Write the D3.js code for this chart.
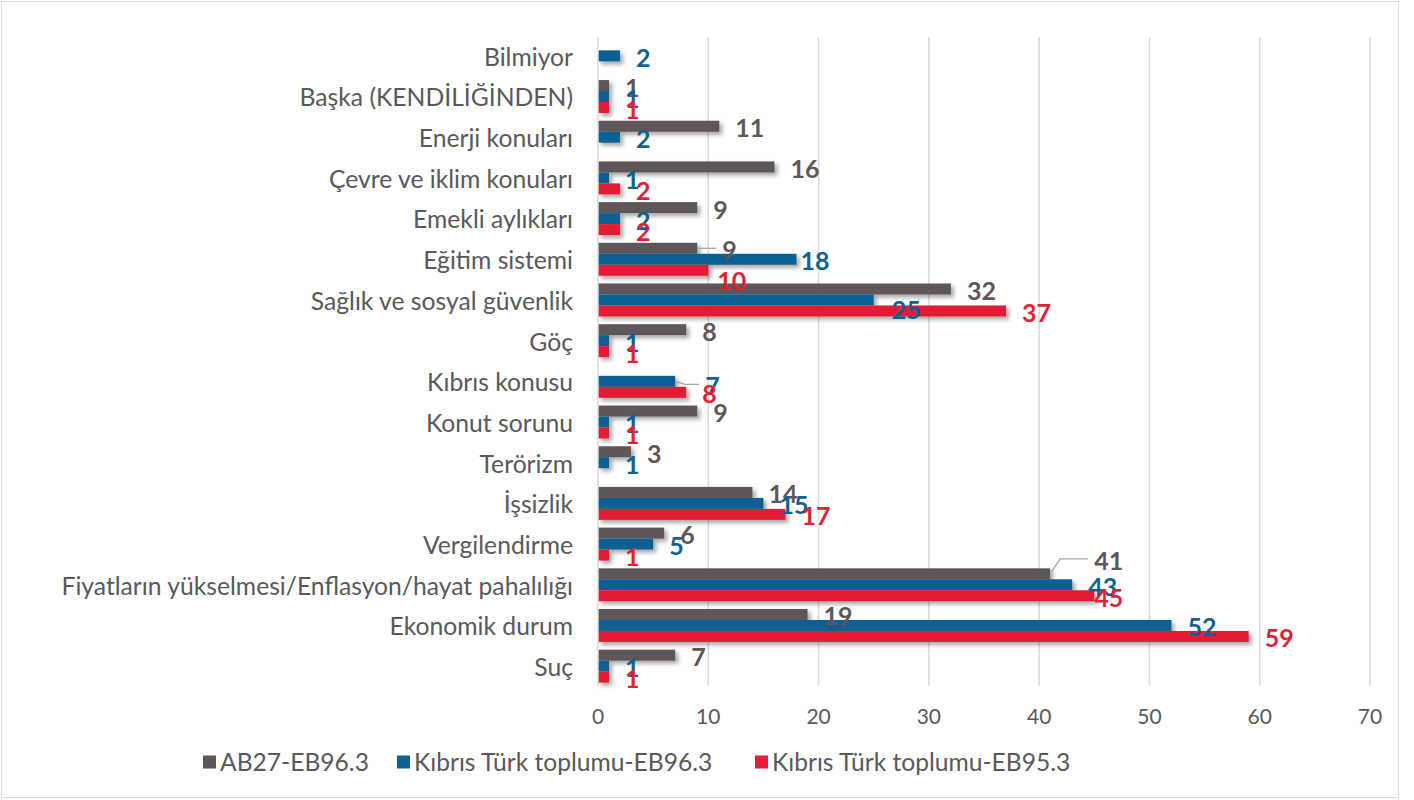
<!DOCTYPE html>
<meta charset="utf-8">
<script src="https://d3js.org/d3.v7.min.js"></script>
<style>
  body { margin: 0; background: #fff; }
  text { font-family: Lato, "Open Sans", sans-serif; }
</style>
<body>
<svg id="chart" width="1414" height="800"></svg>
<script>
// categories, top to bottom
var categories = ["Bilmiyor", "Başka (KENDİLİĞİNDEN)", "Enerji konuları", "Çevre ve iklim konuları",
  "Emekli aylıkları", "Eğitim sistemi ", "Sağlık ve sosyal güvenlik", "Göç", "Kıbrıs konusu",
  "Konut sorunu", "Terörizm", "İşsizlik", "Vergilendirme",
  "Fiyatların yükselmesi/Enflasyon/hayat pahalılığı", "Ekonomik durum", "Suç"];

var seriesNames = ["AB27-EB96.3", "Kıbrıs Türk toplumu-EB96.3", "Kıbrıs Türk toplumu-EB95.3"];
var ab27 = [null, 1, 11, 16, 9, 9, 32, 8, null, 9, 3, 14, 6, 41, 19, 7];
var ktEB963 = [2, 1, 2, 1, 2, 18, 25, 1, 7, 1, 1, 15, 5, 43, 52, 1];
var ktEB953 = [null, 1, null, 2, 2, 10, 37, 1, 8, 1, null, 17, 1, 45, 59, 1];
var xTicks = [0, 10, 20, 30, 40, 50, 60, 70];

var colors = ["#5f565a", "#0f6193", "#e31f36"];
var seriesValues = [ab27, ktEB963, ktEB953];

// hand-moved data labels (category index|series index): extra dx, dy, leader line
var labelNudge = {
  "5|0": { dx: 9, dy: 0, leader: true },
  "5|1": { dx: -12, dy: 0 },
  "5|2": { dx: -7, dy: 9 },
  "6|1": { dx: 2, dy: 8 },
  "8|1": { dx: 14, dy: 3, leader: true },
  "13|0": { dx: 28, dy: -15, leader: true },
  "13|2": { dx: -16, dy: 0 }
};

var svg = d3.select("#chart");

// outer frame
svg.append("rect")
  .attr("x", 1.5).attr("y", 1.5)
  .attr("width", 1397).attr("height", 796)
  .attr("fill", "#fff").attr("stroke", "#d9d9d9").attr("stroke-width", 1);

var defs = svg.append("defs");
var f = defs.append("filter").attr("id", "shadow")
  .attr("x", "-10%").attr("y", "-50%").attr("width", "130%").attr("height", "250%");
f.append("feDropShadow").attr("dx", 3).attr("dy", 3).attr("stdDeviation", 2)
  .attr("flood-color", "#000").attr("flood-opacity", 0.35);

var x = d3.scaleLinear().domain([0, 70]).range([598, 1370]);
var y = d3.scaleBand().domain(categories).range([35.5, 686.5]).paddingInner(0.19).paddingOuter(0.095);
var ySub = d3.scaleBand().domain([0, 1, 2]).range([0, y.bandwidth()]);

// gridlines
svg.append("g").selectAll("line")
  .data(xTicks.slice(1))
  .enter().append("line")
  .attr("x1", d => x(d)).attr("x2", d => x(d))
  .attr("y1", 37).attr("y2", 686)
  .attr("stroke", "#d9d9d9").attr("stroke-width", 1.5);

// bars
var rows = [];
seriesValues.forEach(function(vals, s) {
  vals.forEach(function(v, i) {
    if (v != null) {
      var n = labelNudge[i + "|" + s] || { dx: 0, dy: 0 };
      rows.push({ s: s, i: i, cat: categories[i], v: v, n: n });
    }
  });
});

svg.append("g").attr("filter", "url(#shadow)")
  .selectAll("rect")
  .data(rows)
  .enter().append("rect")
  .attr("x", x(0))
  .attr("y", d => y(d.cat) + ySub(d.s))
  .attr("width", d => x(d.v) - x(0))
  .attr("height", ySub.bandwidth())
  .attr("fill", d => colors[d.s]);

// axis line
svg.append("line")
  .attr("x1", x(0)).attr("x2", x(0)).attr("y1", 37).attr("y2", 686)
  .attr("stroke", "#d9d9d9").attr("stroke-width", 1.5);

function barMid(d) { return y(d.cat) + ySub(d.s) + ySub.bandwidth() / 2; }

// leader lines for moved labels
svg.append("g")
  .selectAll("polyline")
  .data(rows.filter(d => d.n.leader))
  .enter().append("polyline")
  .attr("points", function(d) {
    var x0 = x(d.v), y0 = barMid(d), y1 = y0 + d.n.dy;
    var lx = x0 + 16 + d.n.dx;
    return [[x0, y0], [x0 + Math.min(10, (lx - x0) / 3), y1], [lx - 6, y1]].join(" ");
  })
  .attr("fill", "none").attr("stroke", "#a6a6a6").attr("stroke-width", 1.3);

// data labels
svg.append("g")
  .selectAll("text")
  .data(rows)
  .enter().append("text")
  .attr("x", d => x(d.v) + 16 + d.n.dx)
  .attr("y", d => barMid(d) + 2 + d.n.dy)
  .attr("dy", "0.36em")
  .attr("fill", d => colors[d.s])
  .style("font-size", "25px")
  .style("font-weight", "bold")
  .text(d => d.v);

// category labels
svg.append("g")
  .selectAll("text")
  .data(categories)
  .enter().append("text")
  .attr("x", 573)
  .attr("y", d => y(d) + y.bandwidth() / 2 + 1)
  .attr("dy", "0.36em")
  .attr("text-anchor", "end")
  .attr("fill", "#595959")
  .style("font-size", "24.7px")
  .text(d => d);

// x tick labels
svg.append("g")
  .selectAll("text")
  .data(xTicks)
  .enter().append("text")
  .attr("x", d => x(d))
  .attr("y", 716)
  .attr("dy", "0.36em")
  .attr("text-anchor", "middle")
  .attr("fill", "#595959")
  .style("font-size", "21px")
  .text(d => d);

// legend
var legendX = [203, 397, 755];
var lg = svg.append("g").selectAll("g")
  .data(seriesNames)
  .enter().append("g")
  .attr("transform", (d, i) => "translate(" + legendX[i] + ",762)");
lg.append("rect").attr("x", 0).attr("y", -6.5).attr("width", 13).attr("height", 13)
  .attr("fill", (d, i) => colors[i]);
lg.append("text").attr("x", 17).attr("y", 0).attr("dy", "0.36em")
  .attr("fill", "#595959")
  .style("font-size", "24.6px")
  .text(d => d);
</script>
</body>
